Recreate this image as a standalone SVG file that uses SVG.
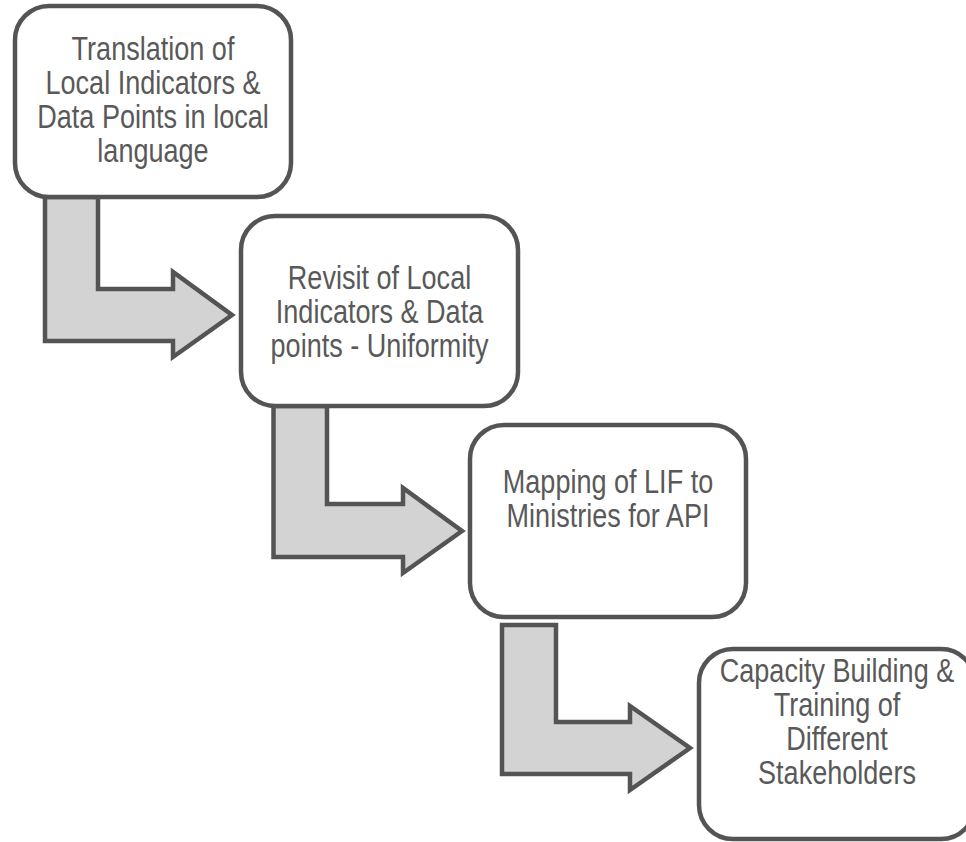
<svg xmlns="http://www.w3.org/2000/svg" width="966" height="842" viewBox="0 0 966 842">
<style>
.box{fill:#ffffff;stroke:#545454;stroke-width:4.5}
.arrow{fill:#d3d3d3;stroke:#545454;stroke-width:4.5;stroke-linejoin:miter}
.lbl{font-family:"Liberation Sans",Arial,sans-serif;font-size:33px;fill:#595959;text-anchor:middle}
</style>
<rect width="966" height="842" fill="#ffffff"/>
<g id="connectors">
<path class="arrow" d="M45,197 L98,197 L98,289 L173,289 L173,272 L232,315 L173,357 L173,341 L45,341 Z"/>
<path class="arrow" d="M273.5,406 L327,406 L327,504 L403,504 L403,488 L462,531 L403,573 L403,557 L273.5,557 Z"/>
<path class="arrow" d="M502,625 L556,625 L556,722 L630,722 L630,706 L690,748 L630,790 L630,774 L502,774 Z"/>
</g>
<g id="node1">
<rect class="box" x="15" y="6" width="276" height="191" rx="34"/>
<text class="lbl" transform="translate(153,0) scale(0.82,1)"><tspan x="0" y="60">Translation of</tspan><tspan x="0" y="94">Local Indicators &amp;</tspan><tspan x="0" y="128">Data Points in local</tspan><tspan x="0" y="162">language</tspan></text>
</g>
<g id="node2">
<rect class="box" x="241" y="216" width="277" height="190" rx="34"/>
<text class="lbl" transform="translate(379.5,0) scale(0.82,1)"><tspan x="0" y="289">Revisit of Local</tspan><tspan x="0" y="323">Indicators &amp; Data</tspan><tspan x="0" y="357">points - Uniformity</tspan></text>
</g>
<g id="node3">
<rect class="box" x="470" y="425" width="276" height="192" rx="34"/>
<text class="lbl" transform="translate(608,0) scale(0.82,1)"><tspan x="0" y="493">Mapping of LIF to</tspan><tspan x="0" y="527">Ministries for API</tspan></text>
</g>
<g id="node4">
<rect class="box" x="699" y="649" width="276" height="190" rx="34"/>
<text class="lbl" transform="translate(837,0) scale(0.82,1)"><tspan x="0" y="682">Capacity Building &amp;</tspan><tspan x="0" y="716">Training of</tspan><tspan x="0" y="750">Different</tspan><tspan x="0" y="784">Stakeholders</tspan></text>
</g>
</svg>
